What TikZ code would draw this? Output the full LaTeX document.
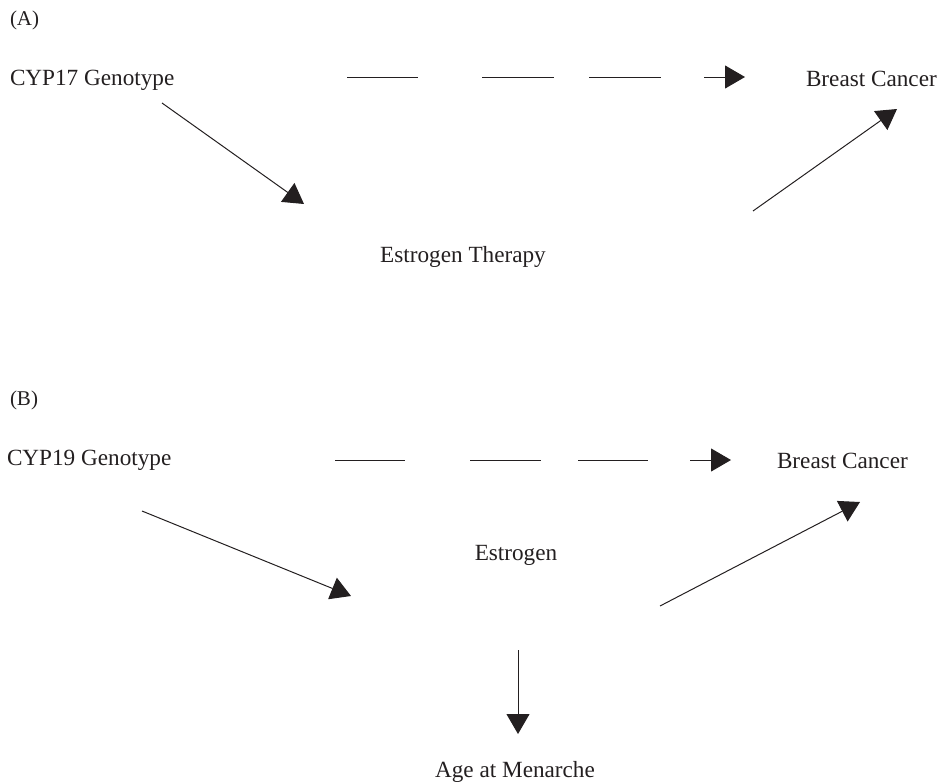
\documentclass[tikz,border=0pt]{standalone}
\usepackage{fontspec}
\setmainfont{Liberation Serif}
\usetikzlibrary{arrows.meta}
\definecolor{ink}{RGB}{35,31,32}
\tikzset{
  lbl/.style={inner sep=0pt, outer sep=0pt, text=ink, font=\fontsize{23.2}{28}\selectfont},
  panel/.style={inner sep=0pt, outer sep=0pt, text=ink, font=\fontsize{21}{25}\selectfont},
  conn/.style={draw=ink, line width=1pt, -{Triangle[length=20pt,width=23pt]}},
}
\begin{document}
\begin{tikzpicture}[x=1pt,y=-1pt]
\useasboundingbox (0,0) rectangle (937,782);
% Panel A
\node[panel, anchor=base west] (lblA) at (10,25) {(A)};
\node[lbl, anchor=base west] (cyp17) at (10,85) {CYP17 Genotype};
\node[lbl, anchor=base west] (bcA) at (806,86) {Breast Cancer};
\node[lbl, anchor=base] (et) at (463,262) {Estrogen Therapy};
\coordinate (dAs) at (347,77);
\coordinate (dAe) at (745,77);
\draw[conn, dash pattern=on 71pt off 64pt on 72pt off 35pt on 72pt off 43pt on 300pt] (dAs) -- (dAe);
\coordinate (a1s) at (162,103);
\coordinate (a1e) at (304,204);
\draw[conn] (a1s) -- (a1e);
\coordinate (a2s) at (753,211);
\coordinate (a2e) at (897,109);
\draw[conn] (a2s) -- (a2e);
% Panel B
\node[panel, anchor=base west] (lblB) at (10,405) {(B)};
\node[lbl, anchor=base west] (cyp19) at (7,465) {CYP19 Genotype};
\node[lbl, anchor=base west] (bcB) at (777,468) {Breast Cancer};
\node[lbl, anchor=base] (estr) at (516,560) {Estrogen};
\node[lbl, anchor=base] (age) at (515,777) {Age at Menarche};
\coordinate (dBs) at (335,460);
\coordinate (dBe) at (731,460);
\draw[conn, dash pattern=on 70pt off 65pt on 71pt off 37pt on 70pt off 42pt on 300pt] (dBs) -- (dBe);
\coordinate (b1s) at (142,511);
\coordinate (b1e) at (351,596);
\draw[conn] (b1s) -- (b1e);
\coordinate (b2s) at (660,606);
\coordinate (b2e) at (860,502);
\draw[conn] (b2s) -- (b2e);
\coordinate (b3s) at (518,650);
\coordinate (b3e) at (518,734);
\draw[conn] (b3s) -- (b3e);
\end{tikzpicture}
\end{document}
